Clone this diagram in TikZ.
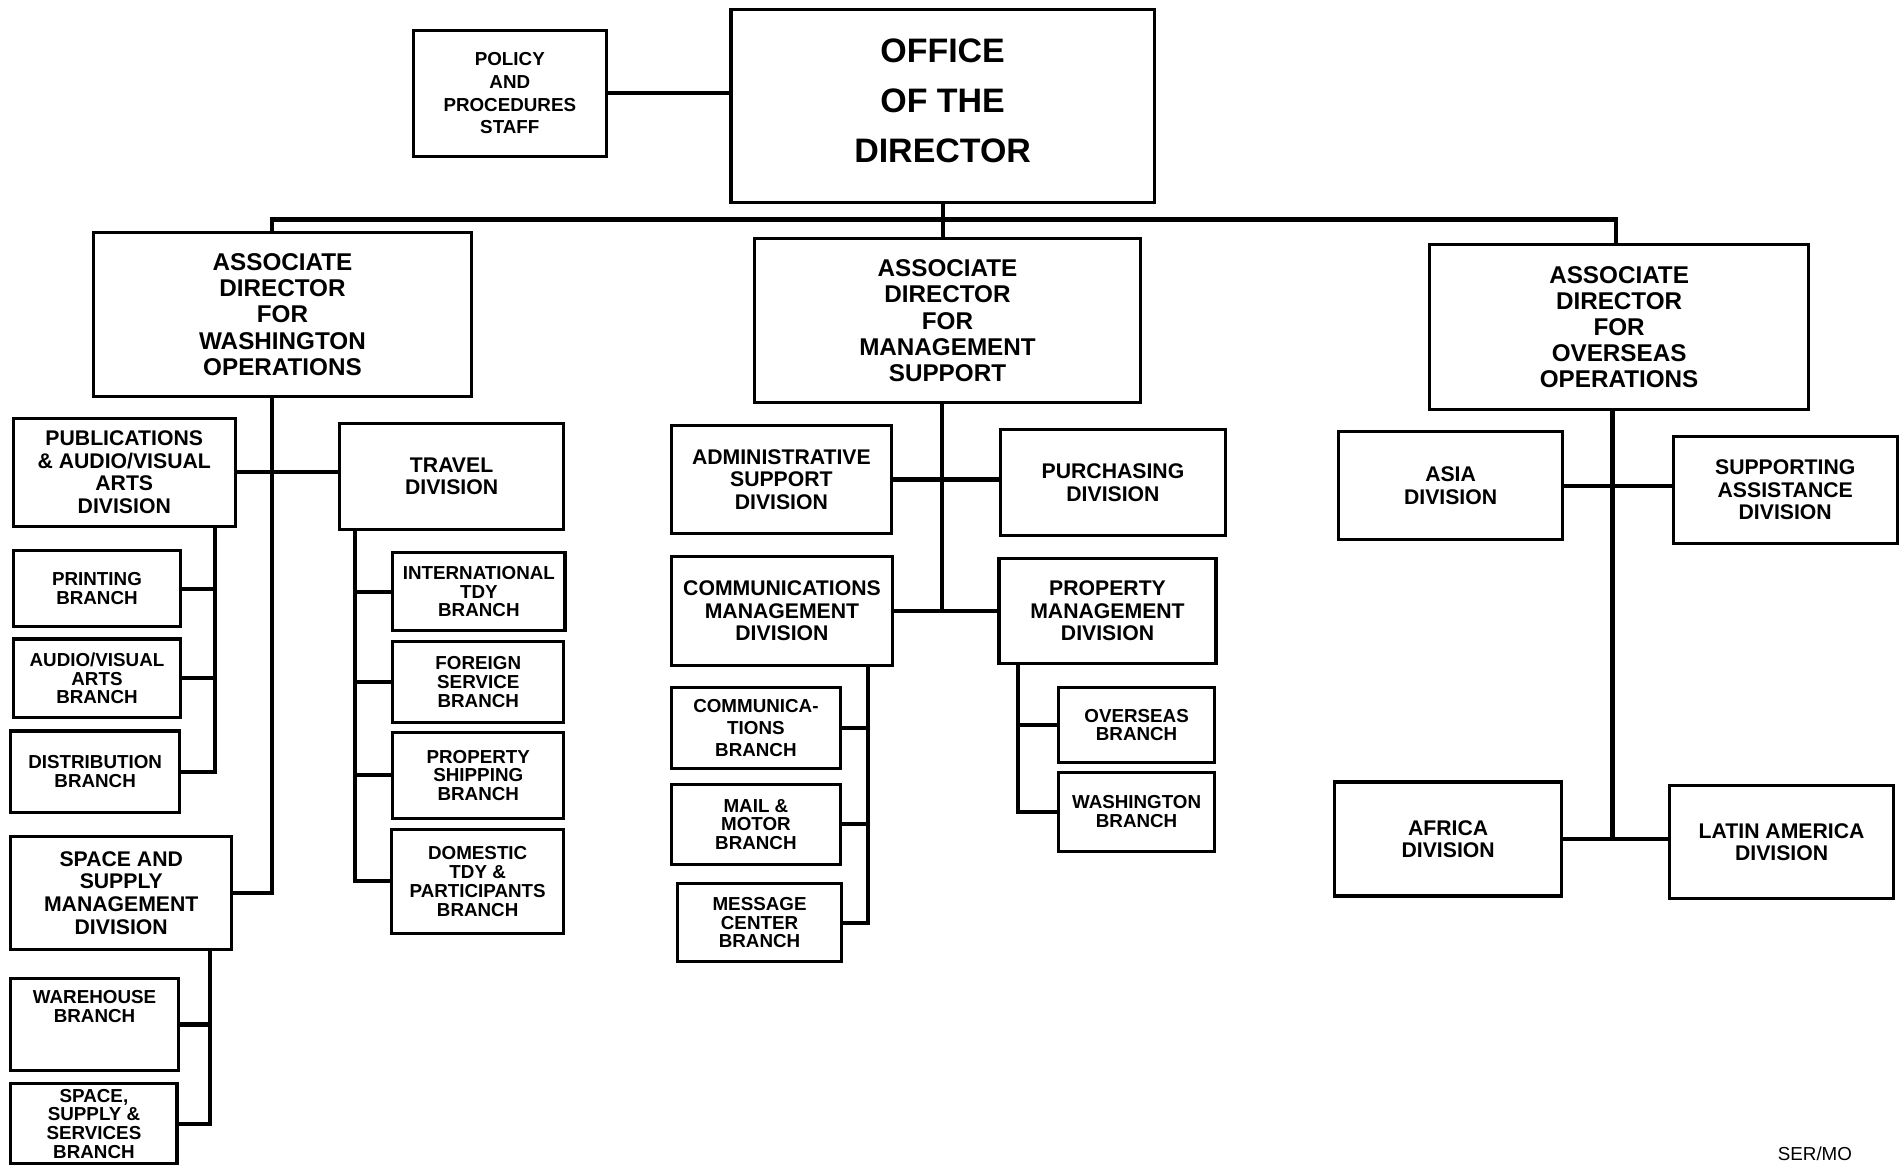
\documentclass[tikz,border=0pt]{standalone}
\usepackage{fontspec}
\setmainfont{Liberation Sans}
\begin{document}
\begin{tikzpicture}[x=1pt,y=-1pt,
  orgbox/.style={draw,line width=2.6pt,inner sep=0pt,align=center,font=\bfseries},
  conn/.style={line width=3.4pt},
  fpolicy/.style={font=\bfseries\fontsize{15.5}{18.7}\selectfont},
  foffice/.style={font=\bfseries\fontsize{28}{41}\selectfont},
  fassoc/.style={font=\bfseries\fontsize{20}{21.5}\selectfont},
  fdiv/.style={font=\bfseries\fontsize{17.5}{18.6}\selectfont},
  fbranch/.style={font=\bfseries\fontsize{15.5}{15.5}\selectfont}]
\newcommand\orgnode[7]{%
  \node[orgbox,#6,minimum width={#4-#2},minimum height={#5-#3}]
    (#1) at ({(#2+#4)/2},{(#3+#5)/2}) {#7};}
\useasboundingbox (0,0) rectangle (1568,962);

% top level
\orgnode{policy}{341}{25}{500}{129}{fpolicy}{POLICY\\AND\\PROCEDURES\\STAFF}
\orgnode{office}{603}{8}{952}{167}{}{}
\node[foffice,align=center] (officetitle) at (777.5,83) {OFFICE\\OF THE\\DIRECTOR};

% associate directors
\orgnode{wash}{77}{192}{389}{327}{fassoc}{ASSOCIATE\\DIRECTOR\\FOR\\WASHINGTON\\OPERATIONS}
\orgnode{mgmt}{622}{197}{941}{332}{fassoc}{ASSOCIATE\\DIRECTOR\\FOR\\MANAGEMENT\\SUPPORT}
\orgnode{overseas}{1179}{202}{1492}{338}{fassoc}{ASSOCIATE\\DIRECTOR\\FOR\\OVERSEAS\\OPERATIONS}

% Washington operations
\orgnode{pub}{11}{345}{194}{434}{fdiv}{PUBLICATIONS\\\& AUDIO/VISUAL\\ARTS\\DIVISION}
\orgnode{travel}{280}{349}{465}{437}{fdiv}{TRAVEL\\DIVISION}
\orgnode{print}{11}{454}{149}{517}{fbranch}{PRINTING\\BRANCH}
\orgnode{av}{11}{527}{149}{592}{fbranch}{AUDIO/VISUAL\\ARTS\\BRANCH}
\orgnode{dist}{9}{603}{148}{670}{fbranch}{DISTRIBUTION\\BRANCH}
\orgnode{ssm}{9}{690}{191}{783}{fdiv}{SPACE AND\\SUPPLY\\MANAGEMENT\\DIVISION}
\orgnode{wh}{9}{807}{147}{883}{fbranch}{WAREHOUSE\\BRANCH\\[14pt]}
\orgnode{sss}{9}{894}{146}{960}{fbranch}{SPACE,\\SUPPLY \&\\SERVICES\\BRANCH}
\orgnode{intl}{324}{456}{466}{520}{fbranch}{INTERNATIONAL\\TDY\\BRANCH}
\orgnode{fsb}{324}{529}{465}{596}{fbranch}{FOREIGN\\SERVICE\\BRANCH}
\orgnode{psb}{324}{604}{465}{675}{fbranch}{PROPERTY\\SHIPPING\\BRANCH}
\orgnode{dom}{323}{684}{465}{770}{fbranch}{DOMESTIC\\TDY \&\\PARTICIPANTS\\BRANCH}

% management support
\orgnode{admin}{554}{351}{735}{440}{fdiv}{ADMINISTRATIVE\\SUPPORT\\DIVISION}
\orgnode{purch}{825}{354}{1011}{442}{fdiv}{PURCHASING\\DIVISION}
\orgnode{cmd}{554}{459}{736}{549}{fdiv}{COMMUNICATIONS\\MANAGEMENT\\DIVISION}
\orgnode{prop}{824}{461}{1003}{547}{fdiv}{PROPERTY\\MANAGEMENT\\DIVISION}
\orgnode{commb}{554}{567}{693}{634}{font=\bfseries\fontsize{15.5}{18.5}\selectfont}{COMMUNICA-\\TIONS\\BRANCH}
\orgnode{mail}{554}{647}{693}{713}{fbranch}{MAIL \&\\MOTOR\\BRANCH}
\orgnode{msg}{559}{729}{694}{793}{fbranch}{MESSAGE\\CENTER\\BRANCH}
\orgnode{ovb}{873}{567}{1002}{629}{fbranch}{OVERSEAS\\BRANCH}
\orgnode{wab}{873}{637}{1002}{702}{fbranch}{WASHINGTON\\BRANCH}

% overseas operations
\orgnode{asia}{1104}{356}{1289}{445}{fdiv}{ASIA\\DIVISION}
\orgnode{supp}{1380}{360}{1565}{448}{fdiv}{SUPPORTING\\ASSISTANCE\\DIVISION}
\orgnode{africa}{1101}{645}{1288}{739}{fdiv}{AFRICA\\DIVISION}
\orgnode{latin}{1377}{648}{1562}{741}{fdiv}{LATIN AMERICA\\DIVISION}

\node[font=\fontsize{15.5}{16}\selectfont] (ser) at (1497,952) {SER/MO};

% trunk positions
\coordinate (bus) at (0,181);
\coordinate (xW) at (224,0);
\coordinate (xO) at (1333,0);
\coordinate (xP) at (177,0);
\coordinate (xT) at (293,0);
\coordinate (xS) at (173,0);
\coordinate (xM) at (777,0);
\coordinate (xC) at (716,0);
\coordinate (xR) at (840,0);
\coordinate (xA) at (1330,0);

% top connections
\draw[conn] (policy.east) -- (policy.east -| office.west);
\draw[conn] (office.south) -- (office.south |- mgmt.north);
\draw[conn] (wash.north -| xW) -- (xW |- bus) -- (xO |- bus) -- (overseas.north -| xO);

% Washington operations
\draw[conn] (wash.south -| xW) |- (ssm.east);
\draw[conn] (pub.east) -- (pub.east -| travel.west);
\draw[conn] (pub.south -| xP) |- (dist.east);
\draw[conn] (print.east) -- (print.east -| xP);
\draw[conn] (av.east) -- (av.east -| xP);
\draw[conn] (ssm.south -| xS) |- (sss.east);
\draw[conn] (wh.east) -- (wh.east -| xS);
\draw[conn] (travel.south -| xT) |- (dom.west);
\draw[conn] (intl.west) -- (intl.west -| xT);
\draw[conn] (fsb.west) -- (fsb.west -| xT);
\draw[conn] (psb.west) -- (psb.west -| xT);

% management support
\draw[conn] (mgmt.south -| xM) -- (xM |- cmd.east);
\draw[conn] (admin.east) -- (admin.east -| purch.west);
\draw[conn] (cmd.east) -- (cmd.east -| prop.west);
\draw[conn] (cmd.south -| xC) |- (msg.east);
\draw[conn] (commb.east) -- (commb.east -| xC);
\draw[conn] (mail.east) -- (mail.east -| xC);
\draw[conn] (prop.south -| xR) |- (wab.west);
\draw[conn] (ovb.west) -- (ovb.west -| xR);

% overseas operations
\draw[conn] (overseas.south -| xA) -- (xA |- africa.east);
\draw[conn] (asia.east) -- (asia.east -| supp.west);
\draw[conn] (africa.east) -- (africa.east -| latin.west);
\end{tikzpicture}
\end{document}
